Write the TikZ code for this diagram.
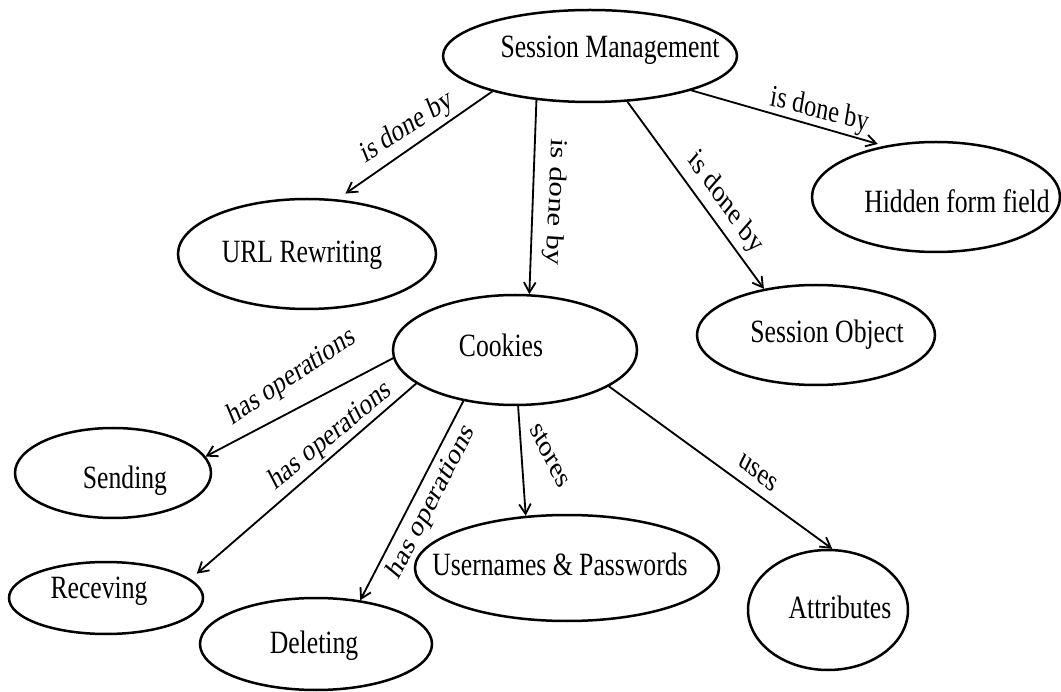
\documentclass[tikz,border=0pt]{standalone}
\usepackage{fontspec}
\setmainfont{Liberation Serif}
\usetikzlibrary{arrows.meta,shapes.geometric}
\begin{document}
\begin{tikzpicture}[x=0.7595pt, y=-0.6pt, xscale=0.79,
  every node/.append style={transform shape},
  concept/.style 2 args={draw, ellipse, line width=1.5pt, inner sep=0pt,
    minimum width={#1*1.519pt}, minimum height={#2*1.2pt}},
  ctext/.style={anchor=base, inner sep=0pt, font=\fontsize{19.5}{22}\selectfont},
  rel/.style={anchor=center, inner sep=0pt, font=\fontsize{18.5}{21}\selectfont},
  link/.style={line width=1.1pt, -{Straight Barb[length=6pt,width=7pt]}}]

\useasboundingbox[fill=white] (0,0) rectangle (1061,692);

% concept ellipses
\node[concept={147}{46}]  (sm)  at (590,56)  {};
\node[concept={129}{55}]  (url) at (307,254) {};
\node[concept={124}{55}]  (hff) at (936,197) {};
\node[concept={119}{50}]  (so)  at (816,335) {};
\node[concept={122}{55}]  (ck)  at (515,350) {};
\node[concept={98}{45}]   (snd) at (113,473) {};
\node[concept={97}{36}]   (rcv) at (106,598) {};
\node[concept={116}{46}]  (del) at (316,644) {};
\node[concept={152}{53}]  (up)  at (567,568) {};
\node[concept={80}{60}]   (att) at (828,610) {};

% concept names
\node[ctext] (smt)  at (610,58)  {Session Management};
\node[ctext] (urlt) at (302,263) {URL Rewriting};
\node[ctext] (hfft) at (957,213) {Hidden form field};
\node[ctext] (sot)  at (827,343) {Session Object};
\node[ctext] (ckt)  at (501,357) {Cookies};
\node[ctext] (sndt) at (125,488) {Sending};
\node[ctext] (rcvt) at (99,598)  {Receving};
\node[ctext] (delt) at (314,653) {Deleting};
\node[ctext] (upt)  at (560,575) {Usernames \& Passwords};
\node[ctext] (attt) at (840,618) {Attributes};

% relations
\draw[link, shorten >=6pt] (sm.196) -- (url.55);
\draw[link] (sm.213) -- (ck.72);
\draw[link] (sm.-44) -- (so.145);
\draw[link, shorten >=4pt] (sm.-15) -- (hff.142);
\draw[link] (ck.183) -- (snd.8);
\draw[link, shorten >=5pt] (ck.195) -- (rcv.10);
\draw[link] (ck.218) -- (del.38);
\draw[link] (ck.-86) -- (up.135);
\draw[link] (ck.-17) -- (att.85);

% relation labels
\node[rel, rotate=27]   (l1) at (407,128) {is done by};
\node[rel, rotate=-93]  (l2) at (555,202) {is done by};
\node[rel, rotate=-48]  (l3) at (725,203) {is done by};
\node[rel, rotate=-12]  (l4) at (820,111) {is done by};
\node[rel, rotate=28]   (l5) at (292,377) {has operations};
\node[rel, rotate=33]   (l6) at (331,436) {has operations};
\node[rel, rotate=57]   (l7) at (432,502) {has operations};
\node[rel, rotate=-58]  (l8) at (550,455) {stores};
\node[rel, rotate=-33]  (l9) at (758,473) {uses};
\end{tikzpicture}
\end{document}
